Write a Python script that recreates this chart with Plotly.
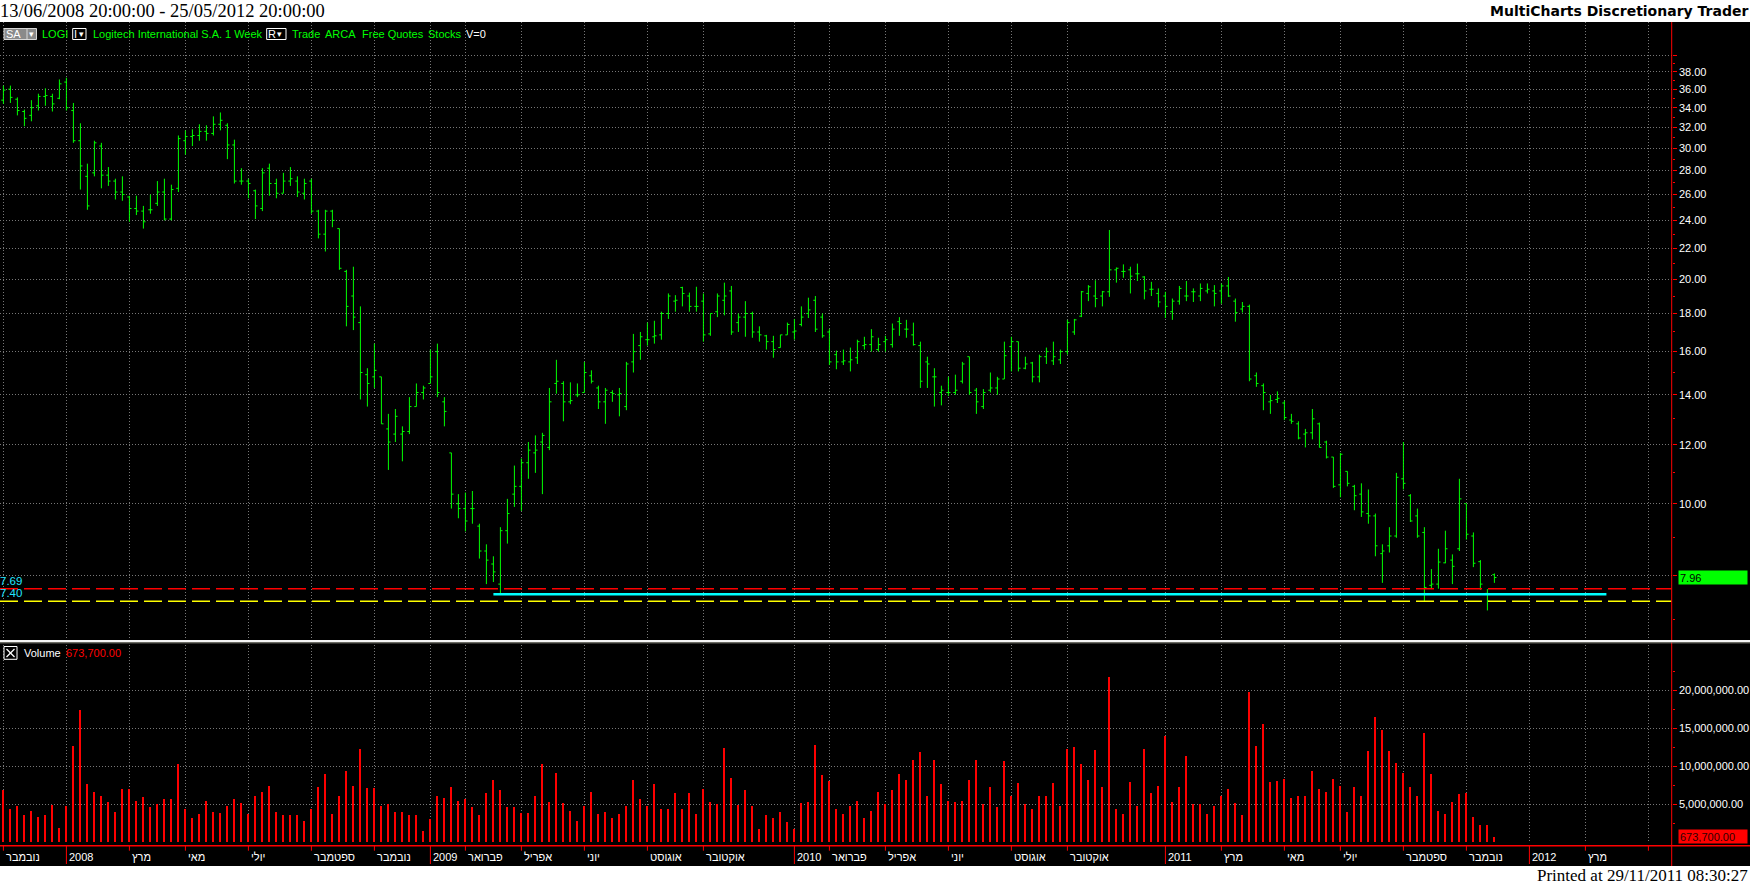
import math
import pandas as pd
import plotly.graph_objects as go

W, H = 1750, 884

# ---------------- data ----------------
first_bar = "2007-11-02"
bar_count = 214

opens = [34.8, 36.0, 34.9, 33.6, 33.2, 34.2, 35.2, 35.2, 35.0, 36.8,
         33.7, 30.7, 27.5, 27.8, 30.2, 27.6, 27.1, 26.2, 25.8, 24.9,
         24.7, 24.8, 25.3, 26.2, 24.1, 26.5, 30.7, 31.1, 31.2, 31.6,
         31.4, 32.3, 32.2, 30.3, 27.1, 27.1, 26.3, 24.9, 28.2, 26.9,
         26.1, 27.1, 27.1, 26.1, 27.1, 24.7, 23.0, 24.7, 23.4, 20.5,
         19.0, 17.5, 14.9, 14.8, 14.8, 12.6, 12.4, 12.4, 12.5, 13.5,
         14.1, 14.5, 16.0, 13.7, 11.7, 10.0, 9.85, 9.85, 9.33, 8.64,
         8.3, 7.8, 9.2, 10.3, 10.55, 11.35, 11.7, 12.1, 11.9, 14.5,
         14.5, 13.7, 14.0, 14.1, 14.85, 14.3, 13.7, 14.1, 14.0, 13.5,
         15.5, 16.3, 16.6, 16.75, 16.85, 18.0, 18.7, 19.5, 19.0, 18.4,
         18.7, 16.9, 18.1, 18.75, 19.3, 17.5, 17.8, 18.0, 17.0, 16.8,
         16.5, 16.2, 16.85, 17.0, 17.4, 18.0, 18.75, 17.8, 17.0, 15.85,
         15.5, 15.5, 15.7, 16.3, 16.35, 16.1, 16.5, 16.35, 17.55, 17.15,
         16.85, 16.3, 15.5, 14.8, 14.1, 14.1, 14.1, 14.6, 15.75, 14.2,
         13.5, 14.2, 14.3, 14.7, 16.25, 16.5, 15.2, 15.45, 14.8, 15.75,
         15.55, 15.6, 16.0, 17.0, 17.85, 19.15, 19.0, 19.0, 19.25, 20.6,
         20.5, 20.6, 20.35, 20.15, 19.4, 19.15, 19.0, 18.1, 18.7, 19.0,
         19.25, 19.0, 19.3, 19.3, 19.3, 19.6, 18.7, 18.25, 18.4, 14.85,
         14.4, 13.7, 13.8, 13.65, 12.95, 12.8, 12.4, 12.45, 12.8, 12.1,
         11.55, 10.6, 11.05, 10.55, 10.3, 9.7, 9.63, 8.57, 8.78, 9.05,
         10.8, 10.25, 9.63, 9.15, 7.77, 7.80, 8.33, 8.4, 8.7, 10.0,
         9.05, 8.36, 7.58, 8.03]

highs = [36.4, 36.4, 35.1, 33.8, 34.8, 35.5, 36.1, 35.5, 37.1, 37.3,
         34.5, 32.4, 28.6, 30.7, 30.5, 28.3, 27.3, 27.5, 25.9, 25.9,
         25.1, 26.0, 27.1, 27.3, 26.8, 31.2, 31.7, 31.8, 32.3, 32.2,
         33.1, 33.5, 32.4, 30.8, 28.2, 27.3, 26.4, 28.2, 28.6, 27.3,
         27.8, 28.3, 27.5, 27.3, 27.3, 24.8, 24.8, 24.8, 23.4, 20.6,
         20.8, 18.4, 15.2, 16.4, 14.8, 13.2, 13.4, 12.7, 13.9, 14.5,
         14.4, 16.1, 16.4, 13.9, 11.7, 10.3, 10.35, 10.4, 9.4, 8.82,
         8.5, 9.3, 10.15, 11.25, 11.5, 12.1, 12.35, 12.45, 14.3, 15.6,
         14.6, 14.55, 14.5, 15.5, 15.1, 14.4, 14.3, 14.2, 14.3, 15.5,
         16.9, 17.0, 17.5, 17.6, 18.1, 19.15, 19.05, 19.55, 19.2, 19.55,
         19.15, 18.0, 19.15, 19.8, 19.6, 18.0, 18.7, 18.1, 17.3, 16.85,
         16.8, 16.85, 17.5, 17.7, 18.4, 18.9, 19.0, 18.0, 17.15, 16.05,
         16.1, 16.2, 16.6, 16.75, 17.15, 16.7, 16.8, 17.45, 17.8, 17.65,
         17.5, 16.5, 15.75, 15.2, 14.4, 14.8, 14.9, 15.5, 15.75, 14.3,
         14.25, 15.0, 14.8, 16.5, 16.75, 16.5, 15.75, 15.5, 15.85, 16.2,
         16.5, 16.1, 17.65, 17.7, 19.3, 19.65, 19.95, 19.3, 23.3, 20.75,
         20.95, 20.8, 21.0, 20.2, 19.85, 19.45, 19.25, 18.85, 19.6, 19.9,
         19.45, 19.75, 19.75, 19.65, 19.75, 20.15, 18.85, 18.65, 18.5, 15.0,
         14.5, 14.0, 14.15, 13.75, 13.2, 12.9, 12.6, 13.4, 12.85, 12.15,
         11.55, 11.7, 11.05, 10.6, 10.65, 10.45, 9.7, 8.82, 9.3, 11.0,
         12.1, 10.3, 9.85, 9.3, 8.17, 8.7, 9.2, 8.55, 10.8, 10.0,
         9.15, 8.4, 7.68, 8.06]

lows = [34.4, 34.5, 33.2, 32.1, 32.6, 33.7, 34.2, 33.6, 34.9, 33.7,
        30.5, 26.4, 24.8, 27.5, 26.5, 26.7, 25.6, 25.5, 23.9, 24.4,
        23.4, 24.5, 25.1, 24.0, 24.0, 26.2, 29.4, 30.2, 30.7, 30.7,
        31.2, 31.7, 29.0, 26.9, 26.8, 25.7, 24.1, 24.7, 25.9, 25.7,
        26.1, 26.7, 25.8, 25.6, 24.5, 22.7, 21.8, 23.5, 20.6, 17.3,
        17.1, 13.8, 13.5, 14.3, 12.8, 11.1, 12.1, 11.4, 12.4, 13.5,
        13.8, 14.5, 13.9, 12.7, 9.85, 9.56, 9.18, 9.4, 8.44, 7.8,
        7.85, 7.55, 8.84, 9.9, 9.78, 10.8, 11.0, 10.3, 11.8, 14.05,
        12.9, 13.6, 13.9, 14.1, 14.5, 13.4, 12.8, 13.7, 13.1, 13.35,
        15.0, 15.6, 16.3, 16.4, 16.6, 17.7, 18.1, 18.4, 18.1, 18.1,
        16.5, 16.8, 17.8, 17.9, 16.85, 17.0, 16.75, 16.7, 16.5, 16.1,
        15.7, 16.2, 16.85, 16.6, 17.3, 17.75, 17.0, 16.7, 15.35, 15.15,
        15.35, 15.05, 15.4, 16.1, 16.0, 16.0, 16.0, 16.2, 16.8, 16.7,
        16.3, 14.3, 14.3, 13.5, 13.55, 13.95, 14.0, 14.5, 14.0, 13.2,
        13.4, 14.1, 14.0, 14.7, 15.05, 15.05, 15.15, 14.55, 14.55, 15.4,
        15.35, 15.4, 15.85, 16.85, 17.8, 18.7, 18.35, 18.4, 18.95, 19.8,
        20.1, 19.15, 19.9, 18.8, 19.0, 18.35, 17.75, 17.65, 18.5, 18.7,
        18.65, 18.7, 19.15, 18.4, 18.55, 18.95, 17.55, 18.05, 14.6, 14.35,
        13.35, 13.2, 13.65, 12.95, 12.8, 12.2, 11.9, 12.2, 11.9, 11.5,
        10.5, 10.2, 10.55, 9.8, 9.6, 9.4, 8.5, 7.83, 8.6, 9.0,
        10.45, 9.45, 9.0, 7.40, 7.68, 7.69, 8.32, 7.80, 8.64, 8.95,
        8.22, 7.66, 7.19, 7.83]

closes = [35.9, 35.1, 33.7, 32.9, 34.0, 35.2, 35.3, 34.4, 36.6, 34.0,
          30.7, 28.4, 25.1, 30.5, 27.6, 27.1, 26.2, 26.0, 24.9, 24.7,
          23.9, 24.8, 26.2, 24.1, 26.4, 30.9, 31.1, 31.2, 31.6, 31.4,
          32.3, 32.7, 30.3, 27.1, 27.1, 26.9, 25.1, 27.8, 26.9, 26.1,
          27.1, 27.3, 26.2, 26.9, 24.7, 23.0, 24.7, 24.0, 20.7, 18.4,
          17.8, 15.0, 14.5, 15.1, 12.8, 12.1, 13.1, 12.5, 13.5, 14.1,
          14.3, 14.8, 14.1, 13.3, 10.3, 9.85, 9.48, 9.85, 8.64, 8.4,
          8.1, 9.2, 9.7, 10.55, 11.35, 11.8, 11.8, 12.35, 13.7, 14.6,
          13.7, 13.75, 14.0, 15.0, 14.6, 13.7, 14.2, 14.05, 14.05, 15.4,
          16.0, 16.75, 16.6, 16.8, 18.0, 19.0, 18.75, 19.15, 18.4, 18.4,
          16.85, 18.0, 19.0, 19.0, 17.0, 17.8, 18.0, 17.0, 16.85, 16.5,
          16.1, 16.85, 17.4, 17.05, 17.8, 18.2, 17.15, 16.8, 15.5, 15.5,
          15.55, 15.6, 16.5, 16.35, 16.75, 16.35, 16.6, 17.15, 17.45, 17.15,
          16.35, 14.6, 15.4, 14.8, 14.2, 14.1, 14.2, 15.4, 14.1, 13.7,
          14.1, 14.3, 14.7, 15.8, 16.5, 15.2, 15.4, 14.8, 15.75, 16.0,
          15.75, 16.0, 17.5, 17.65, 19.25, 19.55, 18.85, 19.25, 20.6, 20.7,
          20.5, 20.2, 20.35, 19.3, 19.4, 18.65, 18.4, 18.7, 19.45, 19.0,
          19.25, 19.45, 19.4, 19.15, 19.6, 19.0, 18.05, 18.4, 14.7, 14.5,
          14.1, 13.75, 13.85, 13.05, 12.9, 12.25, 12.45, 13.0, 11.9, 11.55,
          10.55, 11.65, 10.65, 10.25, 9.75, 9.63, 8.78, 8.64, 9.05, 10.85,
          10.65, 9.48, 9.05, 7.72, 7.80, 8.35, 8.7, 8.24, 10.15, 9.1,
          8.32, 7.80, 7.40, 7.96]

volumes_m = [6.8, 4.4, 4.8, 3.5, 4.1, 3.3, 3.5, 4.9, 1.8, 4.8,
             12.6, 17.4, 7.6, 6.6, 6.1, 5.3, 4.0, 7.0, 7.0, 5.4,
             5.9, 4.6, 5.0, 5.6, 5.6, 10.3, 4.4, 3.1, 3.7, 5.4,
             4.0, 3.8, 4.8, 5.6, 5.1, 3.7, 6.1, 6.6, 7.4, 4.0,
             3.5, 3.5, 3.5, 2.7, 4.3, 7.3, 8.9, 3.7, 6.0, 9.4,
             7.4, 12.2, 7.1, 7.1, 4.8, 5.0, 4.0, 4.0, 3.5, 3.5,
             1.5, 3.0, 6.1, 5.8, 7.3, 5.4, 5.6, 4.6, 3.5, 6.4,
             8.2, 6.8, 4.6, 4.6, 3.8, 3.8, 6.0, 10.3, 5.3, 9.1,
             5.1, 4.1, 2.8, 4.8, 6.6, 3.7, 4.0, 3.1, 3.7, 4.8,
             8.1, 5.6, 4.8, 7.6, 4.4, 4.4, 6.4, 4.4, 6.4, 3.7,
             7.0, 5.3, 5.0, 12.4, 8.4, 4.9, 6.9, 4.7, 1.7, 3.5,
             3.1, 3.9, 2.6, 1.7, 5.1, 5.3, 12.7, 8.8, 8.0, 4.4,
             3.7, 4.8, 5.4, 3.1, 4.1, 6.6, 5.0, 6.8, 8.9, 8.1,
             10.8, 11.9, 6.0, 10.8, 7.6, 5.4, 5.3, 5.4, 8.2, 10.8,
             5.0, 7.2, 4.6, 10.6, 6.0, 7.8, 5.0, 4.4, 6.0, 6.1,
             7.8, 4.8, 12.2, 12.5, 10.3, 8.1, 12.1, 7.3, 21.7, 4.4,
             3.7, 7.9, 4.8, 12.2, 6.4, 7.4, 13.9, 5.3, 7.3, 11.3,
             5.0, 5.0, 3.7, 4.8, 6.0, 7.0, 5.1, 3.5, 19.7, 12.6,
             15.5, 7.9, 8.0, 8.3, 5.8, 6.1, 6.0, 9.3, 7.0, 6.6,
             8.3, 7.4, 3.9, 7.2, 6.0, 12.0, 16.4, 14.7, 12.0, 10.4,
             9.1, 7.2, 6.1, 14.3, 8.9, 4.1, 3.7, 5.3, 6.3, 6.4,
             3.3, 2.3, 2.3, 0.6737]

tick_dates = ["2007-11-02", "2008-01-04", "2008-03-07", "2008-05-02", "2008-07-04",
              "2008-09-05", "2008-11-07", "2009-01-02", "2009-02-06", "2009-04-03",
              "2009-06-05", "2009-08-07", "2009-10-02", "2010-01-01", "2010-02-05",
              "2010-04-02", "2010-06-04", "2010-08-06", "2010-10-01", "2011-01-07",
              "2011-03-04", "2011-05-06", "2011-07-01", "2011-09-02", "2011-11-04",
              "2012-01-06", "2012-03-02", "2012-05-04"]
tick_labels = ["נובמבר", "2008", "מרץ", "מאי", "יולי",
               "ספטמבר", "נובמבר", "2009", "פברואר", "אפריל",
               "יוני", "אוגוסט", "אוקטובר", "2010", "פברואר",
               "אפריל", "יוני", "אוגוסט", "אוקטובר", "2011",
               "מרץ", "מאי", "יולי", "ספטמבר", "נובמבר",
               "2012", "מרץ", ""]
year_labels = ["2008", "2009", "2010", "2011", "2012"]

price_ticks = [40, 38, 36, 34, 32, 30, 28, 26, 24, 22, 20, 18, 16, 14, 12, 10, 8]
price_tick_text = ["", "38.00", "36.00", "34.00", "32.00", "30.00", "28.00", "26.00",
                   "24.00", "22.00", "20.00", "18.00", "16.00", "14.00", "12.00",
                   "10.00", "8.00"]
price_minor = [39, 37, 35, 33, 31, 29, 27, 25, 23, 21, 19, 17, 15, 13, 11, 9, 7]
vol_ticks = [5e6, 10e6, 15e6, 20e6]
vol_tick_text = ["5,000,000.00", "10,000,000.00", "15,000,000.00", "20,000,000.00"]
vol_minor = [2.5e6, 7.5e6, 12.5e6, 17.5e6, 22.5e6]

level_red = 7.69
level_yellow = 7.40
level_cyan = 7.56
cyan_start_bar = 70
cyan_end = "2012-03-23"
last_price = 7.96
last_volume = 673700

# ---------------- layout geometry (pixels) ----------------
PLOT_RIGHT = 1671.7
PRICE_TOP, PRICE_BOT = 22, 640
Y10, PX_PER_LN = 503.7, 323.6
VOL_TOP, VOL_BOT, PX_PER_5M = 645, 842, 38.0
BLACK_TOP, BLACK_BOT = 22, 866
XAXIS_Y = 845.7
FIRST_BAR_X = 3.4  # px, 1 px == 1 day

def py(px):
    return 1 - px / H

def px_(x):
    return x / W

def log_at(px):
    return 1 + (Y10 - px) / (PX_PER_LN * math.log(10))

dates = pd.date_range(first_bar, periods=bar_count, freq="7D")
t0 = pd.Timestamp(first_bar)
x_start = t0 - pd.Timedelta(days=FIRST_BAR_X)
x_end = t0 + pd.Timedelta(days=PLOT_RIGHT - FIRST_BAR_X)
volumes = [v * 1e6 for v in volumes_m[:-1]] + [last_volume]

LIME = "#00ff00"
RED = "#ff0000"
GRID = "#777777"
FONT = "Liberation Sans, Arial, sans-serif"

fig = go.Figure()

fig.add_trace(go.Ohlc(
    x=dates, open=opens, high=highs, low=lows, close=closes,
    increasing=dict(line=dict(color=LIME, width=1)),
    decreasing=dict(line=dict(color=LIME, width=1)),
    tickwidth=0.3, hoverinfo="skip", xaxis="x", yaxis="y"))

fig.add_trace(go.Scatter(x=[x_start, x_end], y=[level_red, level_red], mode="lines",
                         line=dict(color=RED, width=1.5, dash="18px,6px"),
                         hoverinfo="skip", xaxis="x", yaxis="y"))
fig.add_trace(go.Scatter(x=[x_start, x_end], y=[level_yellow, level_yellow], mode="lines",
                         line=dict(color="#ffff00", width=1.5, dash="18px,6px"),
                         hoverinfo="skip", xaxis="x", yaxis="y"))
fig.add_trace(go.Scatter(x=[dates[cyan_start_bar], pd.Timestamp(cyan_end)],
                         y=[level_cyan, level_cyan], mode="lines",
                         line=dict(color="#00ffff", width=2.5),
                         hoverinfo="skip", xaxis="x", yaxis="y"))

fig.add_trace(go.Bar(x=dates, y=volumes, marker=dict(color=RED, line=dict(width=0)),
                     width=1.2 * 86400000, hoverinfo="skip", xaxis="x2", yaxis="y2"))

# marker arrows on the axes
fig.add_trace(go.Scatter(x=[x_end + pd.Timedelta(days=4.5)], y=[last_price], mode="markers",
                         marker=dict(symbol="triangle-left", size=11, color=LIME),
                         cliponaxis=False, hoverinfo="skip", xaxis="x", yaxis="y"))
fig.add_trace(go.Scatter(x=[x_end + pd.Timedelta(days=4.5)], y=[last_volume], mode="markers",
                         marker=dict(symbol="triangle-left", size=11, color=RED),
                         cliponaxis=False, hoverinfo="skip", xaxis="x2", yaxis="y2"))

xcommon = dict(type="date", range=[x_start, x_end], domain=[0, px_(PLOT_RIGHT)],
               tickvals=tick_dates, showticklabels=False, ticks="",
               showgrid=True, gridcolor=GRID, griddash="1px,2px", gridwidth=1,
               showline=False, zeroline=False, fixedrange=True)

shapes = []
shapes.append(dict(type="rect", xref="paper", yref="paper", x0=0, x1=1,
                   y0=py(BLACK_BOT), y1=py(BLACK_TOP), fillcolor="black",
                   line=dict(width=0), layer="below"))
shapes.append(dict(type="line", xref="paper", yref="paper", x0=px_(PLOT_RIGHT), x1=px_(PLOT_RIGHT),
                   y0=py(BLACK_BOT), y1=py(BLACK_TOP), line=dict(color=RED, width=1)))
shapes.append(dict(type="line", xref="paper", yref="paper", x0=0, x1=1,
                   y0=py(XAXIS_Y), y1=py(XAXIS_Y), line=dict(color=RED, width=1.5)))
shapes.append(dict(type="line", xref="paper", yref="paper", x0=0, x1=1,
                   y0=py(641), y1=py(641), line=dict(color="#f4f4f4", width=2)))
shapes.append(dict(type="line", xref="paper", yref="paper", x0=0, x1=1,
                   y0=py(642.8), y1=py(642.8), line=dict(color="#9a9a90", width=1)))
for d, lab in zip(tick_dates, tick_labels):
    bottom = 864 if lab in year_labels else 850.7
    shapes.append(dict(type="line", xref="x", yref="paper", x0=d, x1=d,
                       y0=py(XAXIS_Y), y1=py(bottom), line=dict(color=RED, width=1)))
shapes.append(dict(type="rect", xref="paper", yref="paper", x0=px_(4), x1=px_(36.5),
                   y0=py(39.5), y1=py(28.5), fillcolor="#8a8a8a", line=dict(color="#d8d8d8", width=1)))
shapes.append(dict(type="line", xref="paper", yref="paper", x0=px_(27), x1=px_(27),
                   y0=py(39), y1=py(29), line=dict(color="#d8d8d8", width=1)))
for x0, x1 in [(72.7, 86), (266.7, 286)]:
    shapes.append(dict(type="rect", xref="paper", yref="paper", x0=px_(x0), x1=px_(x1),
                       y0=py(39.5), y1=py(28.5), fillcolor="black", line=dict(color="white", width=1)))
shapes.append(dict(type="rect", xref="paper", yref="paper", x0=px_(4), x1=px_(17),
                   y0=py(659.3), y1=py(646.5), fillcolor="black", line=dict(color="white", width=1)))
shapes.append(dict(type="line", xref="paper", yref="paper", x0=px_(6.5), x1=px_(14.5),
                   y0=py(649), y1=py(657), line=dict(color="white", width=1.2)))
shapes.append(dict(type="line", xref="paper", yref="paper", x0=px_(6.5), x1=px_(14.5),
                   y0=py(657), y1=py(649), line=dict(color="white", width=1.2)))

ann = []
def text(x, y, s, color="white", size=11, anchor="left", family=FONT, yanchor="middle", **kw):
    d = dict(xref="paper", yref="paper", x=px_(x), y=py(y), text=s, showarrow=False,
             xanchor=anchor, yanchor=yanchor, font=dict(color=color, size=size, family=family))
    d.update(kw)
    ann.append(d)

text(-2, 11, "13/06/2008 20:00:00 - 25/05/2012 20:00:00", color="black", size=18.5,
     family="Liberation Serif, Times New Roman, serif")
text(1750, 11, "<b>MultiCharts Discretionary Trader</b>", color="black", size=14,
     anchor="right", family="DejaVu Sans, Verdana, sans-serif")
text(1750, 875, "Printed at 29/11/2011 08:30:27", color="black", size=17,
     anchor="right", family="Liberation Serif, Times New Roman, serif")

text(4, 34, "SA", size=11)
text(26.5, 34, "▾", size=9, family="DejaVu Sans")
text(40, 34, "LOGI", color=LIME)
text(72, 34, "I", size=11)
text(77, 34, "▾", size=9, family="DejaVu Sans")
text(91, 34, "Logitech International S.A.", color=LIME)
text(223, 34, "1 Week", color=LIME)
text(266, 34, "R", size=11)
text(275, 34, "▾", size=9, family="DejaVu Sans")
text(289.5, 34, "Trade", color=LIME)
text(323, 34, "ARCA", color=LIME)
text(359.5, 34, "Free Quotes", color=LIME)
text(425.5, 34, "Stocks", color=LIME)
text(464, 34, "V=0", color="white")

text(22, 653, "Volume")
text(63.5, 653, "673,700.00", color=RED)

for lv in [level_red, level_yellow]:
    ann.append(dict(xref="paper", yref="y", x=-0.001, y=math.log10(lv), text=f"{lv:.2f}",
                    showarrow=False, xanchor="left", yanchor="bottom",
                    font=dict(color="#22e4ff", size=11.5, family=FONT)))

ann.append(dict(xref="paper", yref="y", x=px_(1678), y=math.log10(last_price), text=f"{last_price:.2f}",
                showarrow=False, xanchor="left", yanchor="middle", align="left",
                width=66, height=11, borderpad=1, bgcolor=LIME,
                font=dict(color="black", size=11, family=FONT)))
ann.append(dict(xref="paper", yref="y2", x=px_(1678), y=last_volume, text=f"{last_volume:,.2f}",
                showarrow=False, xanchor="left", yanchor="middle", align="left",
                width=66, height=11, borderpad=1, bgcolor=RED,
                font=dict(color="#300000", size=11, family=FONT)))

for d, lab in zip(tick_dates, tick_labels):
    if lab:
        ann.append(dict(xref="x", yref="paper", x=d, y=py(856.5), text=lab, showarrow=False,
                        xanchor="left", yanchor="middle", xshift=1,
                        font=dict(color="white", size=11, family=FONT)))

fig.update_layout(
    width=W, height=H, margin=dict(l=0, r=0, t=0, b=0),
    paper_bgcolor="white", plot_bgcolor="black", showlegend=False,
    xaxis=dict(**xcommon, anchor="y", rangeslider=dict(visible=False)),
    xaxis2=dict(**xcommon, anchor="y2", matches="x"),
    yaxis=dict(type="log", domain=[py(PRICE_BOT), py(PRICE_TOP)],
               range=[log_at(PRICE_BOT), log_at(PRICE_TOP)], side="right", anchor="x",
               tickvals=price_ticks, ticktext=price_tick_text, ticks="outside", ticklen=4,
               tickcolor=RED, tickwidth=1, tickfont=dict(color="white", size=11, family=FONT),
               showgrid=True, gridcolor=GRID, griddash="1px,2px", gridwidth=1,
               minor=dict(tickvals=price_minor, ticks="outside", ticklen=2, tickcolor=RED, showgrid=False),
               showline=False, zeroline=False, fixedrange=True),
    yaxis2=dict(domain=[py(VOL_BOT), py(VOL_TOP)],
                range=[0, (VOL_BOT - VOL_TOP) / PX_PER_5M * 5e6], side="right", anchor="x2",
                tickvals=vol_ticks, ticktext=vol_tick_text, ticks="outside", ticklen=4,
                tickcolor=RED, tickwidth=1, tickfont=dict(color="white", size=11, family=FONT),
                showgrid=True, gridcolor=GRID, griddash="1px,2px", gridwidth=1,
                minor=dict(tickvals=vol_minor, ticks="outside", ticklen=2, tickcolor=RED, showgrid=False),
                showline=False, zeroline=False, fixedrange=True),
    shapes=shapes, annotations=ann, bargap=0,
)

fig.write_html("out.html", config={"displayModeBar": False},
               post_script="document.body.style.margin='0';document.body.style.overflow='hidden';")
